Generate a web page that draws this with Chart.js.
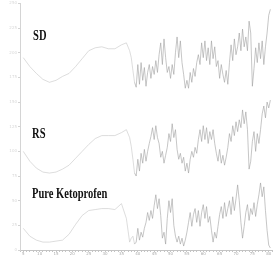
<!DOCTYPE html>
<html>
<head>
<meta charset="utf-8">
<script src="https://cdn.jsdelivr.net/npm/chart.js@4/dist/chart.umd.min.js"></script>
<style>
html,body{margin:0;padding:0;background:#fff;}
#c{display:block;}
</style>
</head>
<body>
<canvas id="c" width="274" height="259"></canvas>
<script>
// 2-theta positions (degrees)
const twoTheta = [5,7,9,11,13,15,17,19,21,23,25,27,29,31,33,35,36.5,37.5,38,38.5,39,
39.5,40,40.5,41,41.5,42,42.5,43,43.5,44,44.5,45,45.5,46,46.5,47,47.5,48,48.5,49,
49.5,50,50.5,51,51.5,52,52.5,53,53.5,54,54.5,55,55.5,56,56.5,57,57.5,58,58.5,59,
59.5,60,60.5,61,61.5,62,62.5,63,63.5,64,64.5,65,65.5,66,66.5,67,67.5,68,68.5,69,
69.5,70,70.5,71,71.5,72,72.5,73,73.5,74,74.5,75,75.5,76,76.5,77,77.5,78,78.5,79,
79.5,80,80.5];

// Intensities (arbitrary units, traces stacked)
const sdValues = [195,186,179,173,170,172,176,179,186,194,202,205,206,204,204,208,210,202,195,182,170,
165,188,168,190,172,185,166,180,188,174,
186,178,192,180,198,210,188,214,195,180,
186,174,188,178,200,216,195,212,190,178,
164,172,164,180,170,184,176,190,198,188,
210,195,212,192,205,188,212,194,206,186,
192,174,188,178,170,182,168,190,208,192,
214,198,206,220,202,224,206,216,202,232,
220,166,184,205,190,210,194,212,188,206,
220,238,244];

const rsValues = [100,90,83,79,78,79,82,86,93,100,107,113,116,116,116,119,122,114,105,92,78,
75,92,80,98,88,102,90,100,108,115,
124,112,126,114,108,94,100,88,96,104,
118,110,128,114,122,102,92,98,88,94,
80,88,78,92,100,94,104,98,112,122,
110,126,112,124,108,120,112,122,108,98,
90,102,88,96,86,94,104,118,110,126,
116,130,120,132,124,142,128,140,122,82,
90,110,120,100,118,108,122,138,146,134,
150,144,152];

const ketoValues = [22,14,10,8,8,9,10,16,26,35,40,41,42,42,41,47,32,8,12,14,6,
8,22,10,18,13,22,28,38,30,40,
32,45,56,42,52,35,12,18,6,32,
50,38,52,25,14,8,14,6,12,4,
10,18,28,38,24,36,42,28,40,24,
38,46,32,44,28,34,20,8,18,12,
24,36,44,32,48,34,42,50,36,54,
40,52,66,50,28,12,24,38,46,30,
42,36,48,34,46,56,68,54,64,40,
20,5,2];

const seriesNames = ["SD","RS","Pure Ketoprofen"];
const xTickLabels = [5,10,15,20,25,30,35,40,45,50,55,60,65,70,75,80];

function pts(vals){ return vals.map((v,i)=>({x:twoTheta[i], y:v})); }

const labelPlugin = {
  id:'traceLabels',
  afterDatasetsDraw(chart){
    const ctx = chart.ctx;
    const xs = chart.scales.x, ys = chart.scales.y;
    const spots = [
      {t:seriesNames[0], x:8.0, y:213},
      {t:seriesNames[1], x:7.7, y:114},
      {t:seriesNames[2], x:7.7, y:53}
    ];
    ctx.save();
    ctx.fillStyle = '#111';
    ctx.font = 'bold 15px "Liberation Serif"';
    ctx.textBaseline = 'alphabetic';
    spots.forEach(s=>{
      const px = xs.getPixelForValue(s.x), py = ys.getPixelForValue(s.y);
      ctx.save();
      ctx.translate(px, py);
      ctx.scale(0.7, 1);
      ctx.fillText(s.t, 0, 0);
      ctx.restore();
    });
    ctx.restore();
  }
};

const lineStyle = {
  borderColor:'#a0a0a0',
  borderWidth:0.6,
  pointRadius:0,
  tension:0,
  fill:false,
  segment:{ borderColor: c => (c.p0.parsed.x < 39 ? '#c6c6c6' : '#a0a0a0') }
};

new Chart(document.getElementById('c'), {
  type:'line',
  data:{
    datasets:[
      Object.assign({label:seriesNames[0], data:pts(sdValues)}, lineStyle),
      Object.assign({label:seriesNames[1], data:pts(rsValues)}, lineStyle),
      Object.assign({label:seriesNames[2], data:pts(ketoValues)}, lineStyle)
    ]
  },
  options:{
    responsive:false,
    animation:false,
    devicePixelRatio:1,
    layout:{padding:{left:0,right:2,top:0,bottom:0}},
    plugins:{legend:{display:false}, tooltip:{enabled:false}},
    scales:{
      x:{
        type:'linear', min:4, max:81,
        afterFit(s){ s.height = 9; },
        grid:{display:true, drawOnChartArea:false, drawTicks:true, tickLength:2, color:'#c4c4c4'},
        border:{display:true, color:'#c4c4c4', width:1},
        ticks:{
          stepSize:1, autoSkip:false, maxRotation:0, padding:0,
          font:{size:4, family:'"DejaVu Sans"'}, color:'#aaa',
          callback:v => (xTickLabels.includes(v) ? String(v) : '')
        }
      },
      y:{
        type:'linear', min:0, max:250,
        afterFit(s){ s.width = 20; },
        grid:{display:true, drawOnChartArea:false, drawTicks:true, tickLength:2, color:'#d4d4d4'},
        border:{display:true, color:'#d4d4d4', width:1},
        ticks:{stepSize:25, padding:1, font:{size:4, family:'"DejaVu Sans"'}, color:'#d8d8d8'}
      }
    }
  },
  plugins:[labelPlugin]
});
</script>
</body>
</html>
